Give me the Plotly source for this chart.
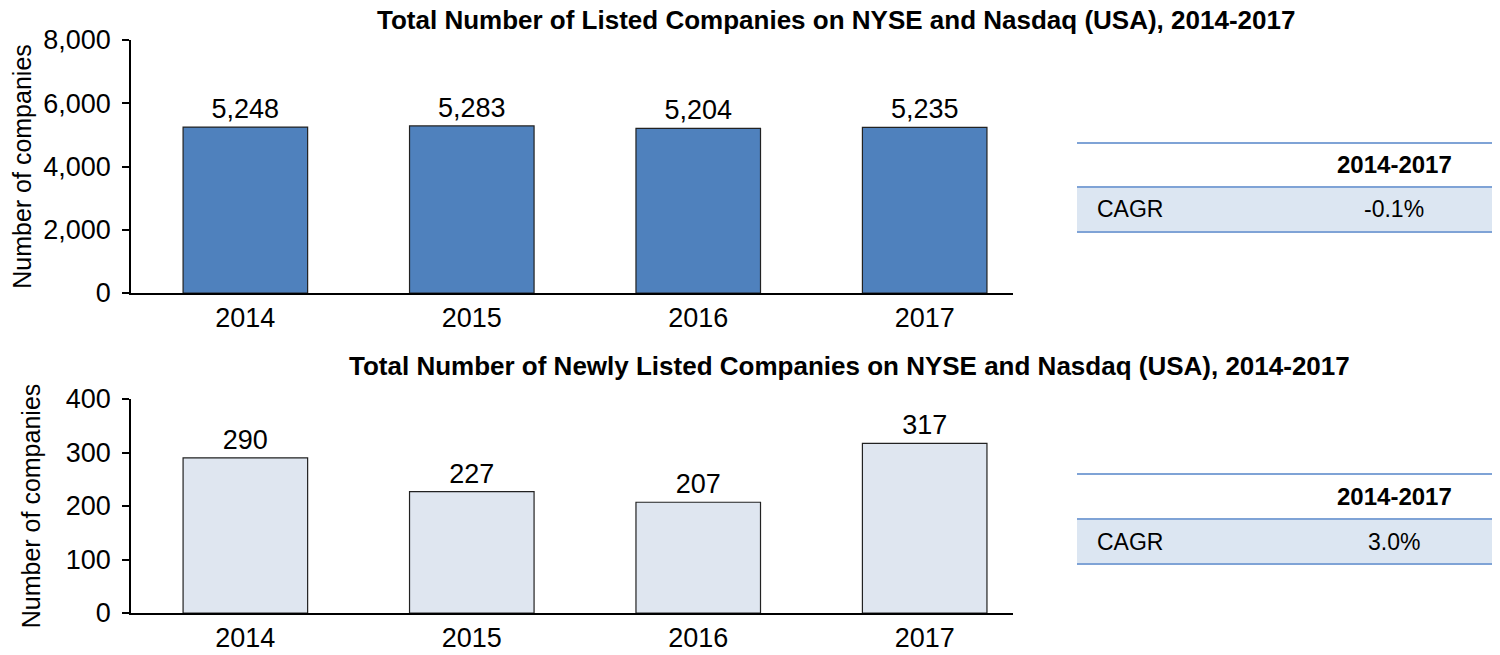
import plotly.graph_objects as go

years = ["2014", "2015", "2016", "2017"]
listed = [5248, 5283, 5204, 5235]
newly = [290, 227, 207, 317]
titles = ["Total Number of Listed Companies on NYSE and Nasdaq (USA), 2014-2017",
          "Total Number of Newly Listed Companies on NYSE and Nasdaq (USA), 2014-2017"]
table_header = "2014-2017"
table_row_label = "CAGR"
cagr_values = ["-0.1%", "3.0%"]
y_label = "Number of companies"

FONT = "Liberation Sans, Arial, Helvetica, sans-serif"
W, H = 1500, 655
OFFX, OFFY = 7, 8  # page body margin


def px(p):
    return (p - OFFX) / W


def py(p):
    return 1 - (p - OFFY) / H


fig = go.Figure()
fig.add_trace(go.Bar(x=years, y=listed, xaxis="x", yaxis="y",
                     marker=dict(color="#4f81bd", line=dict(color="#222222", width=1.2)),
                     texttemplate="%{y:,}", textposition="outside",
                     textfont=dict(size=27, color="black", family=FONT), cliponaxis=False))
fig.add_trace(go.Bar(x=years, y=newly, xaxis="x2", yaxis="y2",
                     marker=dict(color="#dfe6f0", line=dict(color="#222222", width=1.2)),
                     texttemplate="%{y:,}", textposition="outside",
                     textfont=dict(size=27, color="black", family=FONT), cliponaxis=False))

xd = [px(130), px(1012)]
top_dom = [py(293), py(40)]
bot_dom = [py(613), py(399)]
xrange_ = [-0.505, 3.39]

axis_common = dict(showline=True, linecolor="black", linewidth=1.5, showgrid=False,
                   tickfont=dict(size=27, color="black", family=FONT), zeroline=False,
                   automargin=False)
ytitle = dict(text=y_label, font=dict(size=25, family=FONT, color="black"), standoff=18)
fig.update_layout(
    width=W, height=H, margin=dict(l=0, r=0, t=0, b=0, autoexpand=False),
    paper_bgcolor="white", plot_bgcolor="white", showlegend=False,
    bargap=0.45, font=dict(family=FONT, color="black"),
    xaxis=dict(domain=xd, anchor="y", ticks="", ticklabelstandoff=0, range=xrange_, **axis_common),
    yaxis=dict(domain=top_dom, anchor="x", range=[0, 8000], dtick=2000, tickformat=",",
               ticks="outside", ticklen=7, tickcolor="black", tickwidth=1.5,
               ticklabelstandoff=6, title=ytitle, **axis_common),
    xaxis2=dict(domain=xd, anchor="y2", ticks="", ticklabelstandoff=0, range=xrange_, **axis_common),
    yaxis2=dict(domain=bot_dom, anchor="x2", range=[0, 400], dtick=100,
                ticks="outside", ticklen=7, tickcolor="black", tickwidth=1.5,
                ticklabelstandoff=6, title=ytitle, **axis_common),
)

# titles
for t, ypos, xc in [(titles[0], 19.5, 835), (titles[1], 366, 848)]:
    fig.add_annotation(text="<b>" + t + "</b>", x=px(xc), y=py(ypos), xref="paper", yref="paper",
                       showarrow=False, xanchor="center", yanchor="middle", borderpad=0,
                       font=dict(size=26, color="black", family=FONT))

# CAGR tables
line_col = "#7fa3d6"
for i, (l1, l2, l3) in enumerate([(143, 187, 232), (474, 519, 564)]):
    x0, x1 = px(1076), px(1497)
    fig.add_shape(type="rect", xref="paper", yref="paper", x0=x0, x1=x1,
                  y0=py(l3), y1=py(l2), fillcolor="#dce6f2", line=dict(width=0), layer="below")
    for l in (l1, l2, l3):
        fig.add_shape(type="line", xref="paper", yref="paper", x0=x0, x1=x1,
                      y0=py(l), y1=py(l), line=dict(color=line_col, width=2))
    fig.add_annotation(text="<b>" + table_header + "</b>", x=px(1393), y=py((l1 + l2) / 2),
                       xref="paper", yref="paper", showarrow=False, xanchor="center", yanchor="middle",
                       font=dict(size=24, color="black", family=FONT))
    fig.add_annotation(text=table_row_label, x=px(1094), y=py((l2 + l3) / 2),
                       xref="paper", yref="paper", showarrow=False, xanchor="left", yanchor="middle",
                       font=dict(size=23, color="black", family=FONT))
    fig.add_annotation(text=cagr_values[i], x=px(1393), y=py((l2 + l3) / 2),
                       xref="paper", yref="paper", showarrow=False, xanchor="center", yanchor="middle",
                       font=dict(size=23, color="black", family=FONT))

fig.write_html("out.html")
